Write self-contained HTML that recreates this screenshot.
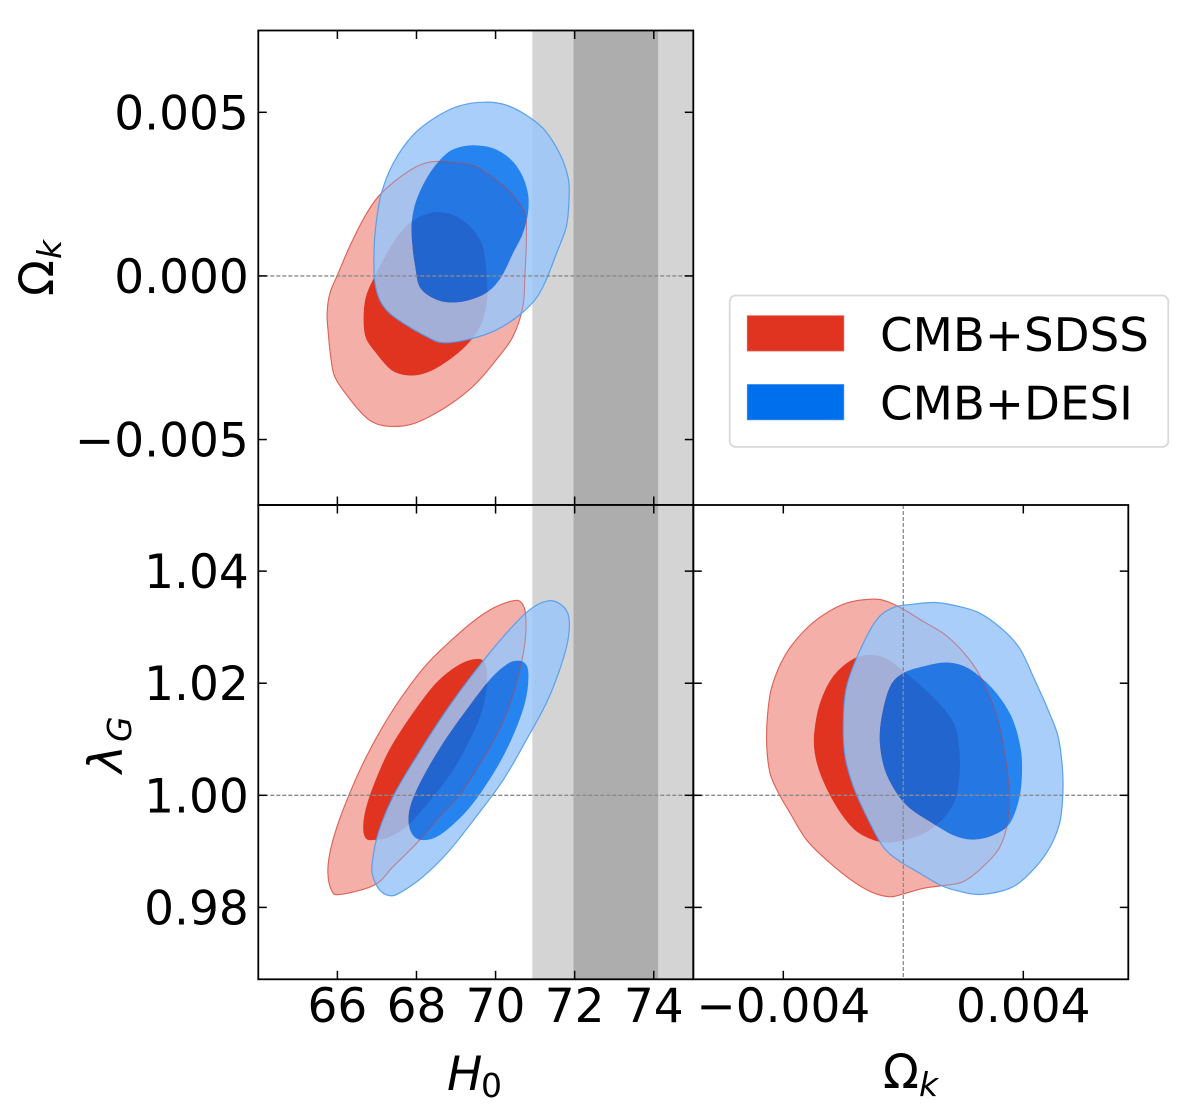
<!DOCTYPE html>
<html lang="en">
<head>
<meta charset="utf-8">
<title>Triangle plot of H0, Omega_k and lambda_G</title>
<style>
  html, body { margin: 0; padding: 0; background: #fff; }
  body { width: 1200px; height: 1118px; overflow: hidden; }
  svg { display: block; }
  text { font-family: "DejaVu Sans", "Liberation Sans", sans-serif; fill: #000; }
</style>
</head>
<body>
<svg id="chart" xmlns="http://www.w3.org/2000/svg" width="1200" height="1118" viewBox="0 0 1200 1118">
  <rect x="0" y="0" width="1200" height="1118" fill="#fff"/>
  <defs>
    <clipPath id="clip-top"><rect x="258.3" y="30.5" width="435" height="474.5"/></clipPath>
    <clipPath id="clip-left"><rect x="258.3" y="505" width="435" height="474.3"/></clipPath>
    <clipPath id="clip-right"><rect x="693.3" y="505" width="435" height="474.3"/></clipPath>
  </defs>
  <g id="panels"></g>

  <g>
    <text x="447" y="1090" font-size="47" font-style="italic">H</text>
    <text x="481" y="1097" font-size="33">0</text>
  </g>
  <g>
    <text x="883" y="1088" font-size="47">Ω</text>
    <text x="919" y="1096" font-size="33" font-style="italic">k</text>
  </g>
  <g>
    <text transform="translate(53,296) rotate(-90)" font-size="47">Ω</text>
    <text transform="translate(61,259) rotate(-90)" font-size="33" font-style="italic">k</text>
  </g>
  <g>
    <text transform="translate(122,773) rotate(-90)" font-size="47" font-style="italic">λ</text>
    <text transform="translate(131,742) rotate(-90)" font-size="33" font-style="italic">G</text>
  </g>

  <g>
    <rect x="729.7" y="295.5" width="438.6" height="151.5" rx="6" ry="6" fill="#fff" fill-opacity="0.9" stroke="#d9d9d9" stroke-width="1.8"/>
    <rect x="747.3" y="315.7" width="96.5" height="35.3" fill="#e03421" stroke="#ea5d4f" stroke-width="0.8"/>
    <text x="880" y="351" font-size="46.7">CMB+SDSS</text>
    <rect x="747.3" y="384.5" width="96.5" height="35.3" fill="#006fed" stroke="#3a8ff0" stroke-width="0.8"/>
    <text x="880" y="419.5" font-size="46.7">CMB+DESI</text>
  </g>
</svg>

<script>
// Axis ticks and their printed labels
const h0Ticks = [66, 68, 70, 72, 74];
const h0TickLabels = ['66', '68', '70', '72', '74'];
const omegaYTicks = [0.005, 0, -0.005];
const omegaYTickLabels = ['0.005', '0.000', '\u22120.005'];
const lambdaTicks = [1.04, 1.02, 1.00, 0.98];
const lambdaTickLabels = ['1.04', '1.02', '1.00', '0.98'];
const omegaXTicks = [-0.004, 0.004];
const omegaXTickLabels = ['\u22120.004', '0.004'];

// Axis ranges
const h0Range = [64, 75];
const omegaRange = [-0.007, 0.0075];
const lambdaRange = [0.96717, 1.0518];

// Reference values
const h0Band1Sigma = [71.97, 74.11];
const h0Band2Sigma = [70.93, 75.18];
const omegaReference = 0;
const lambdaReference = 1;

// Panel: H0 vs Omega_k  [H0, Omega_k]
const sdssOuterH0Omega = [[68.42,.00349],[69.01,.00346],[69.51,.00334],[70.02,.00293],[70.44,.00247],[70.74,.00191],[70.78,.00120],[70.74,-.00002],[70.69,-.00094],[70.44,-.00185],[70.02,-.00256],[69.51,-.00328],[69.01,-.00379],[68.42,-.00424],[67.91,-.00452],[67.45,-.00460],[66.99,-.00452],[66.65,-.00424],[66.23,-.00363],[65.93,-.00307],[65.83,-.00246],[65.77,-.00175],[65.74,-.00114],[65.81,-.00053],[66.02,.00008],[66.31,.00090],[66.69,.00181],[67.03,.00242],[67.49,.00293],[68.00,.00334]];
const sdssInnerH0Omega = [[68.63,.00194],[69.01,.00181],[69.39,.00146],[69.64,.00100],[69.73,.00049],[69.78,-.00022],[69.77,-.00083],[69.60,-.00155],[69.26,-.00211],[68.76,-.00261],[68.25,-.00295],[67.79,-.00303],[67.37,-.00287],[66.99,-.00236],[66.73,-.00190],[66.67,-.00134],[66.73,-.00063],[66.97,.00003],[67.41,.00100],[67.83,.00161],[68.25,.00188]];
const desiOuterH0Omega = [[69.73,.00531],[70.27,.00522],[70.78,.00491],[71.24,.00446],[71.62,.00374],[71.83,.00303],[71.86,.00242],[71.79,.00151],[71.54,.00069],[71.28,-.00012],[71.03,-.00068],[70.61,-.00119],[70.02,-.00165],[69.35,-.00193],[68.67,-.00204],[68.25,-.00185],[67.74,-.00150],[67.32,-.00114],[67.07,-.00073],[66.94,-.00012],[66.93,.00090],[66.99,.00171],[67.11,.00252],[67.41,.00344],[67.91,.00430],[68.50,.00486],[69.09,.00520]];
const desiInnerH0Omega = [[69.51,.00399],[69.94,.00390],[70.36,.00359],[70.65,.00313],[70.82,.00252],[70.82,.00191],[70.69,.00130],[70.44,.00069],[70.15,-.00002],[69.81,-.00048],[69.35,-.00073],[68.84,-.00081],[68.42,-.00068],[68.08,-.00033],[67.97,.00028],[67.90,.00090],[67.88,.00161],[68.00,.00232],[68.33,.00313],[68.76,.00374],[69.14,.00395]];

// Panel: H0 vs lambda_G  [H0, lambda_G]
const sdssOuterH0Lambda = [[70.44,1.0347],[70.65,1.0344],[70.76,1.0322],[70.74,1.0271],[70.57,1.0212],[70.31,1.0152],[69.94,1.0096],[69.51,1.0045],[69.08,1.0000],[68.59,.9962],[68.00,.9914],[67.41,.9873],[66.94,.9840],[66.06,.9823],[65.85,.9831],[65.76,.9861],[65.81,.9897],[65.99,.9944],[66.29,1.0000],[66.69,1.0063],[67.15,1.0123],[67.66,1.0179],[68.25,1.0233],[68.84,1.0274],[69.43,1.0310],[69.94,1.0334]];
const sdssInnerH0Lambda = [[69.56,1.0243],[69.73,1.0234],[69.78,1.0215],[69.75,1.0182],[69.60,1.0140],[69.30,1.0093],[68.92,1.0045],[68.42,.9998],[67.83,.9950],[67.32,.9926],[66.94,.9921],[66.73,.9923],[66.66,.9941],[66.72,.9974],[66.94,1.0021],[67.32,1.0081],[67.91,1.0146],[68.50,1.0200],[69.09,1.0233]];
const desiOuterH0Lambda = [[71.33,1.0347],[71.66,1.0340],[71.85,1.0319],[71.83,1.0277],[71.62,1.0224],[71.28,1.0164],[70.78,1.0099],[70.19,1.0027],[69.51,.9962],[68.84,.9902],[68.17,.9855],[67.58,.9826],[67.32,.9821],[67.07,.9831],[66.90,.9855],[66.88,.9879],[67.03,.9932],[67.41,.9998],[68.00,1.0069],[68.76,1.0152],[69.51,1.0224],[70.27,1.0289],[70.86,1.0331]];
const desiInnerH0Lambda = [[70.53,1.0240],[70.74,1.0236],[70.83,1.0218],[70.78,1.0176],[70.57,1.0128],[70.19,1.0069],[69.68,1.0010],[69.18,.9965],[68.59,.9929],[68.17,.9920],[67.91,.9929],[67.80,.9953],[67.87,.9986],[68.17,1.0033],[68.67,1.0093],[69.26,1.0152],[69.85,1.0206],[70.27,1.0233]];

// Panel: Omega_k vs lambda_G  [Omega_k, lambda_G]
const sdssOuterOmegaLambda = [[-.00105,1.0350],[-.00055,1.0346],[0,1.0332],[.00067,1.0310],[.00133,1.0289],[.00189,1.0262],[.00244,1.0224],[.00288,1.0176],[.00316,1.0134],[.00338,1.0075],[.00352,1.0015],[.00349,.9956],[.00322,.9908],[.00266,.9873],[.00200,.9846],[.00133,.9839],[.00067,.9834],[0,.9824],[-.00044,.9819],[-.00100,.9826],[-.00166,.9846],[-.00244,.9879],[-.00322,.9920],[-.00377,.9968],[-.00416,1.0004],[-.00444,1.0039],[-.00455,1.0087],[-.00453,1.0140],[-.00438,1.0194],[-.00394,1.0250],[-.00333,1.0292],[-.00266,1.0322],[-.00189,1.0343]];
const sdssInnerOmegaLambda = [[-.00105,1.0250],[-.00055,1.0243],[0,1.0221],[.00067,1.0191],[.00133,1.0155],[.00172,1.0123],[.00186,1.0081],[.00186,1.0033],[.00172,.9992],[.00133,.9959],[.00067,.9932],[0,.9920],[-.00055,.9916],[-.00111,.9923],[-.00166,.9941],[-.00222,.9980],[-.00272,1.0033],[-.00294,1.0075],[-.00296,1.0111],[-.00277,1.0164],[-.00233,1.0212],[-.00166,1.0243]];
const desiOuterOmegaLambda = [[.00105,1.0344],[.00177,1.0338],[.00255,1.0325],[.00333,1.0295],[.00388,1.0262],[.00433,1.0212],[.00483,1.0152],[.00516,1.0105],[.00530,1.0051],[.00532,1.0004],[.00521,.9950],[.00483,.9902],[.00422,.9861],[.00355,.9834],[.00255,.9823],[.00177,.9830],[.00122,.9840],[.00055,.9861],[-.00011,.9882],[-.00067,.9908],[-.00122,.9962],[-.00166,1.0015],[-.00194,1.0069],[-.00200,1.0128],[-.00189,1.0194],[-.00144,1.0259],[-.00089,1.0313],[-.00033,1.0335],[.00033,1.0341]];
const desiInnerOmegaLambda = [[.00139,1.0237],[.00200,1.0231],[.00255,1.0212],[.00311,1.0182],[.00361,1.0140],[.00388,1.0093],[.00396,1.0051],[.00388,.9998],[.00355,.9950],[.00300,.9929],[.00233,.9921],[.00166,.9929],[.00089,.9953],[.00022,.9977],[-.00022,1.0004],[-.00061,1.0045],[-.00078,1.0093],[-.00072,1.0140],[-.00044,1.0194],[0,1.0218],[.00067,1.0230]];

// Pixel geometry of the three panels
const colLeft = 258.3, colMid = 693.3, colRight = 1128.3;
const rowTop = 30.5, rowMid = 505, rowBottom = 979.3;

function linear(domain, a, b) {
  return function (v) { return a + (v - domain[0]) / (domain[1] - domain[0]) * (b - a); };
}
const xH0 = linear(h0Range, colLeft, colMid);
const xOmega = linear(omegaRange, colMid, colRight);
const yOmega = linear(omegaRange, rowMid, rowTop);
const yLambda = linear(lambdaRange, rowBottom, rowMid);

const NS = 'http://www.w3.org/2000/svg';
const panels = document.getElementById('panels');

function closedSmoothPath(points, sx, sy) {
  const p = points.map(function (d) { return [sx(d[0]), sy(d[1])]; });
  const n = p.length;
  let d = 'M' + p[0][0].toFixed(2) + ' ' + p[0][1].toFixed(2);
  for (let i = 0; i < n; i++) {
    const p0 = p[(i - 1 + n) % n], p1 = p[i], p2 = p[(i + 1) % n], p3 = p[(i + 2) % n];
    const c1x = p1[0] + (p2[0] - p0[0]) / 6, c1y = p1[1] + (p2[1] - p0[1]) / 6;
    const c2x = p2[0] - (p3[0] - p1[0]) / 6, c2y = p2[1] - (p3[1] - p1[1]) / 6;
    d += 'C' + c1x.toFixed(2) + ' ' + c1y.toFixed(2) + ' ' + c2x.toFixed(2) + ' ' + c2y.toFixed(2) + ' ' + p2[0].toFixed(2) + ' ' + p2[1].toFixed(2);
  }
  return d + 'Z';
}

function addContour(parent, name, points, sx, sy, fill, opacity, stroke, strokeWidth) {
  const el = document.createElementNS(NS, 'path');
  
  
  el.setAttribute('d', closedSmoothPath(points, sx, sy));
  el.setAttribute('fill', fill);
  el.setAttribute('fill-opacity', opacity);
  el.setAttribute('stroke', stroke);
  el.setAttribute('stroke-width', strokeWidth);
  parent.appendChild(el);
}

// Outer confidence region: filled only between the two contour levels
function addRing(parent, name, outer, inner, sx, sy, fill, opacity) {
  const el = document.createElementNS(NS, 'path');
  
  
  el.setAttribute('d', closedSmoothPath(outer, sx, sy) + closedSmoothPath(inner, sx, sy));
  el.setAttribute('fill-rule', 'evenodd');
  el.setAttribute('fill', fill);
  el.setAttribute('fill-opacity', opacity);
  parent.appendChild(el);
}

function addOutline(parent, name, points, sx, sy, stroke, strokeOpacity, strokeWidth) {
  const el = document.createElementNS(NS, 'path');
  
  
  el.setAttribute('d', closedSmoothPath(points, sx, sy));
  el.setAttribute('fill', 'none');
  el.setAttribute('stroke', stroke);
  el.setAttribute('stroke-opacity', strokeOpacity);
  el.setAttribute('stroke-width', strokeWidth);
  parent.appendChild(el);
}

function addLine(parent, name, x1, y1, x2, y2, color, width, dash) {
  const el = document.createElementNS(NS, 'line');
  
  
  el.setAttribute('x1', x1);
  el.setAttribute('y1', y1);
  el.setAttribute('x2', x2);
  el.setAttribute('y2', y2);
  el.setAttribute('stroke', color);
  el.setAttribute('stroke-width', width);
  if (dash) el.setAttribute('stroke-dasharray', dash);
  parent.appendChild(el);
}

function addBand(parent, name, from, to, sx, top, bottom, fill) {
  const el = document.createElementNS(NS, 'rect');
  
  
  el.setAttribute('x', sx(from));
  el.setAttribute('y', top);
  el.setAttribute('width', sx(to) - sx(from));
  el.setAttribute('height', bottom - top);
  el.setAttribute('fill', fill);
  parent.appendChild(el);
}

function addLabel(parent, name, text, x, y, anchor) {
  const el = document.createElementNS(NS, 'text');
  
  
  el.setAttribute('x', x);
  el.setAttribute('y', y);
  el.setAttribute('font-size', '47');
  el.setAttribute('text-anchor', anchor);
  el.textContent = text;
  parent.appendChild(el);
}

const TICK = 8.5;

function drawPanel(cfg) {
  const g = document.createElementNS(NS, 'g');
  
  
  panels.appendChild(g);

  const inner = document.createElementNS(NS, 'g');
  
  
  inner.setAttribute('clip-path', 'url(#' + cfg.clip + ')');
  g.appendChild(inner);

  if (cfg.bands) {
    addBand(inner, 'h0-local-2-sigma-band', h0Band2Sigma[0], h0Band2Sigma[1], cfg.sx, cfg.top, cfg.bottom, '#d4d4d4');
    addBand(inner, 'h0-local-1-sigma-band', h0Band1Sigma[0], h0Band1Sigma[1], cfg.sx, cfg.top, cfg.bottom, '#adadad');
  }

  addContour(inner, 'cmb-sdss-95-contour', cfg.sdssOuter, cfg.sx, cfg.sy, '#f4afa8', 1, '#e57a70', 1);
  addContour(inner, 'cmb-sdss-68-contour', cfg.sdssInner, cfg.sx, cfg.sy, '#e03421', 1, '#e03421', 0.6);
  addRing(inner, 'cmb-desi-95-contour', cfg.desiOuter, cfg.desiInner, cfg.sx, cfg.sy, '#99c5f8', 0.85);
  addContour(inner, 'cmb-desi-68-contour', cfg.desiInner, cfg.sx, cfg.sy, '#006eed', 0.85, 'none', 0);
  addOutline(inner, 'cmb-sdss-95-outline', cfg.sdssOuter, cfg.sx, cfg.sy, '#d8453a', 0.5, 1.1);
  addOutline(inner, 'cmb-desi-95-outline', cfg.desiOuter, cfg.sx, cfg.sy, '#4f9bec', 0.9, 1.2);

  if (cfg.refY !== null) {
    addLine(inner, 'horizontal-reference-line', cfg.left, cfg.sy(cfg.refY), cfg.right, cfg.sy(cfg.refY), '#8a8a8a', 1.3, '4 2');
  }
  if (cfg.refX !== null) {
    addLine(inner, 'vertical-reference-line', cfg.sx(cfg.refX), cfg.top, cfg.sx(cfg.refX), cfg.bottom, '#8a8a8a', 1.3, '4 2');
  }

  cfg.xTicks.forEach(function (t, i) {
    const x = cfg.sx(t);
    addLine(g, 'x-tick-top', x, cfg.top, x, cfg.top + TICK, '#000', 1.5);
    addLine(g, 'x-tick-bottom', x, cfg.bottom, x, cfg.bottom - TICK, '#000', 1.5);
    if (cfg.xLabels) {
      addLabel(g, 'x-tick-label', cfg.xLabels[i], x, cfg.bottom + 42.5, 'middle');
    }
  });
  cfg.yTicks.forEach(function (t, i) {
    const y = cfg.sy(t);
    addLine(g, 'y-tick-left', cfg.left, y, cfg.left + TICK, y, '#000', 1.5);
    addLine(g, 'y-tick-right', cfg.right, y, cfg.right - TICK, y, '#000', 1.5);
    if (cfg.yLabels) {
      addLabel(g, 'y-tick-label', cfg.yLabels[i], cfg.left - 9.5, y + 17, 'end');
    }
  });

  const frame = document.createElementNS(NS, 'rect');
  
  
  frame.setAttribute('x', cfg.left);
  frame.setAttribute('y', cfg.top);
  frame.setAttribute('width', cfg.right - cfg.left);
  frame.setAttribute('height', cfg.bottom - cfg.top);
  frame.setAttribute('fill', 'none');
  frame.setAttribute('stroke', '#000');
  frame.setAttribute('stroke-width', '1.8');
  g.appendChild(frame);
}

drawPanel({
  name: 'panel-h0-omega-k', clip: 'clip-top', left: colLeft, right: colMid, top: rowTop, bottom: rowMid,
  sx: xH0, sy: yOmega, bands: true, refX: null, refY: omegaReference,
  sdssOuter: sdssOuterH0Omega, sdssInner: sdssInnerH0Omega, desiOuter: desiOuterH0Omega, desiInner: desiInnerH0Omega,
  xTicks: h0Ticks, xLabels: null, yTicks: omegaYTicks, yLabels: omegaYTickLabels
});
drawPanel({
  name: 'panel-h0-lambda-g', clip: 'clip-left', left: colLeft, right: colMid, top: rowMid, bottom: rowBottom,
  sx: xH0, sy: yLambda, bands: true, refX: null, refY: lambdaReference,
  sdssOuter: sdssOuterH0Lambda, sdssInner: sdssInnerH0Lambda, desiOuter: desiOuterH0Lambda, desiInner: desiInnerH0Lambda,
  xTicks: h0Ticks, xLabels: h0TickLabels, yTicks: lambdaTicks, yLabels: lambdaTickLabels
});
drawPanel({
  name: 'panel-omega-k-lambda-g', clip: 'clip-right', left: colMid, right: colRight, top: rowMid, bottom: rowBottom,
  sx: xOmega, sy: yLambda, bands: false, refX: omegaReference, refY: lambdaReference,
  sdssOuter: sdssOuterOmegaLambda, sdssInner: sdssInnerOmegaLambda, desiOuter: desiOuterOmegaLambda, desiInner: desiInnerOmegaLambda,
  xTicks: omegaXTicks, xLabels: omegaXTickLabels, yTicks: lambdaTicks, yLabels: null
});
</script>
</body>
</html>
